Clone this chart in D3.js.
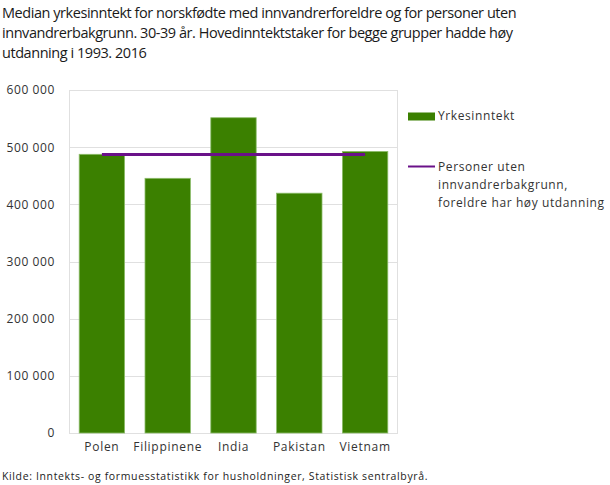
<!DOCTYPE html>
<html>
<head>
<meta charset="utf-8">
<script src="https://cdn.jsdelivr.net/npm/d3@7"></script>
<style>
  body { margin: 0; background: #fff; }
  text { font-family: "Open Sans", sans-serif; fill: #333; }
</style>
</head>
<body>
<div id="chart"></div>
<script>
// chart data
const countries = ['Polen', 'Filippinene', 'India', 'Pakistan', 'Vietnam'];
const income = [487500, 445500, 551500, 419500, 492500];
const reference = [487000, 487000, 487000, 487000, 487000];
const yTicks = [0, 100000, 200000, 300000, 400000, 500000, 600000];

const titleLines = [
  'Median yrkesinntekt for norskfødte med innvandrerforeldre og for personer uten',
  'innvandrerbakgrunn. 30-39 år. Hovedinntektstaker for begge grupper hadde høy',
  'utdanning i 1993. 2016'
];
const legendBar = 'Yrkesinntekt';
const legendLine = ['Personer uten', 'innvandrerbakgrunn,', 'foreldre har høy utdanning'];
const source = 'Kilde: Inntekts- og formuesstatistikk for husholdninger, Statistisk sentralbyrå.';

const width = 610;
const height = 485;
const margin = { top: 90, left: 69, right: 212, bottom: 52 };
const plotW = width - margin.left - margin.right;
const plotH = height - margin.top - margin.bottom;

const svg = d3.select('#chart').append('svg')
  .attr('width', width)
  .attr('height', height);

// title
svg.append('text')
  .attr('class', 'title')
  .style('font-size', '14.5px')
  .style('letter-spacing', '-0.45px')
  .style('fill', '#1a1a1a')
  .selectAll('tspan')
  .data(titleLines)
  .join('tspan')
  .attr('x', 2)
  .attr('y', (d, i) => 18 + i * 20)
  .text(d => d);

const g = svg.append('g')
  .attr('transform', 'translate(' + margin.left + ',' + margin.top + ')');

const x = d3.scaleBand()
  .domain(countries)
  .range([0, plotW])
  .paddingInner(0.31)
  .paddingOuter(0.155);

const y = d3.scaleLinear()
  .domain([0, 600000])
  .range([plotH, 0]);

const fmt = v => d3.format(',')(v).replace(/,/g, ' ');

// gridlines
g.append('g')
  .selectAll('line')
  .data(yTicks)
  .join('line')
  .attr('x1', 0)
  .attr('x2', plotW)
  .attr('y1', d => Math.round(y(d)) + 0.5)
  .attr('y2', d => Math.round(y(d)) + 0.5)
  .attr('stroke', '#e0e0e0');

// frame sides
g.append('line')
  .attr('x1', 0.5).attr('x2', 0.5)
  .attr('y1', y(600000)).attr('y2', y(0))
  .attr('stroke', '#e0e0e0');
g.append('line')
  .attr('x1', plotW - 0.5).attr('x2', plotW - 0.5)
  .attr('y1', y(600000)).attr('y2', y(0))
  .attr('stroke', '#e0e0e0');

// y axis
const yAxis = d3.axisLeft(y)
  .tickValues(yTicks)
  .tickFormat(fmt)
  .tickSize(0)
  .tickPadding(14);

g.append('g')
  .attr('class', 'y axis')
  .call(yAxis)
  .call(a => a.select('.domain').remove())
  .call(a => a.selectAll('text')
    .style('font-size', '12px')
    .style('letter-spacing', '0.6px')
    .style('fill', '#333'));

// x axis
const xAxis = d3.axisBottom(x).tickSize(0).tickPadding(9);

g.append('g')
  .attr('class', 'x axis')
  .attr('transform', 'translate(0,' + plotH + ')')
  .call(xAxis)
  .call(a => a.select('.domain').remove())
  .call(a => a.selectAll('text')
    .style('font-size', '12px')
    .style('letter-spacing', '0.7px')
    .style('fill', '#333'));

// bars
g.append('g')
  .selectAll('rect')
  .data(countries)
  .join('rect')
  .attr('x', d => x(d))
  .attr('width', x.bandwidth())
  .attr('y', (d, i) => y(income[i]))
  .attr('height', (d, i) => y(0) - y(income[i]))
  .attr('fill', '#3b8000')
  .attr('stroke', '#8cbc6a')
  .attr('stroke-width', 0.8);

// reference line
const line = d3.line()
  .x((d, i) => x(countries[i]) + x.bandwidth() / 2)
  .y(d => y(d));

g.append('path')
  .datum(reference)
  .attr('d', line)
  .attr('fill', 'none')
  .attr('stroke', '#6a1189')
  .attr('stroke-width', 3);

// legend
const lg = svg.append('g').attr('transform', 'translate(408,0)');
lg.append('rect')
  .attr('x', 0).attr('y', 112.5)
  .attr('width', 27).attr('height', 8)
  .attr('fill', '#3b8000');
lg.append('text')
  .attr('x', 30).attr('y', 120)
  .style('font-size', '12px')
  .style('letter-spacing', '0.6px')
  .text(legendBar);
lg.append('line')
  .attr('x1', 0).attr('x2', 27)
  .attr('y1', 166.5).attr('y2', 166.5)
  .attr('stroke', '#6a1189')
  .attr('stroke-width', 2);
lg.append('text')
  .style('font-size', '12px')
  .style('letter-spacing', '0.6px')
  .selectAll('tspan')
  .data(legendLine)
  .join('tspan')
  .attr('x', 30)
  .attr('y', (d, i) => 171 + i * 18)
  .text(d => d);

// source
svg.append('text')
  .attr('x', 2)
  .attr('y', 480)
  .style('font-size', '10.5px')
  .style('letter-spacing', '0.63px')
  .style('fill', '#222')
  .text(source);
</script>
</body>
</html>
